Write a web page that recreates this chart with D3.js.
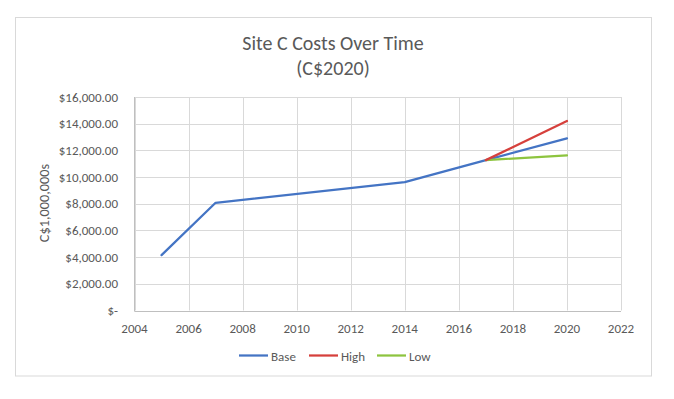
<!DOCTYPE html>
<html><head><meta charset="utf-8">
<script src="https://cdn.jsdelivr.net/npm/d3@7/dist/d3.min.js"></script>
<style>body{margin:0;background:#fff}svg{display:block}</style>
</head><body><svg id="c" width="674" height="399"></svg>
<script>
const years = [2005, 2007, 2014, 2017, 2020];
const baseValues = [4150, 8070, 9620, 11270, 12900];
const highYears = [2017, 2020];
const highValues = [11270, 14200];
const lowYears = [2017, 2020];
const lowValues = [11270, 11620];
const xTicks = [2004, 2006, 2008, 2010, 2012, 2014, 2016, 2018, 2020, 2022];
const yTicks = [0, 2000, 4000, 6000, 8000, 10000, 12000, 14000, 16000];
const seriesNames = ["Base", "High", "Low"];
const seriesColors = ["#4474C4", "#D6403C", "#8DC43F"];

const svg = d3.select("#c");
const font = "Carlito, Calibri, Lato, 'Open Sans', sans-serif";
const txt = "#595959";

svg.append("rect").attr("x",15.5).attr("y",17.5).attr("width",636).attr("height",358.5)
  .attr("fill","#fff").attr("stroke","#d9d9d9").attr("stroke-width",1);

const L=134.5, R=621, T=97, B=310.5;
const x = d3.scaleLinear().domain([2004,2022]).range([L,R]);
const y = d3.scaleLinear().domain([0,16000]).range([B,T]);

// grid
const g = svg.append("g");
g.selectAll(".gy").data(yTicks).join("line")
  .attr("x1",L).attr("x2",R).attr("y1",d=>Math.round(y(d))+0.5).attr("y2",d=>Math.round(y(d))+0.5)
  .attr("stroke","#d9d9d9").attr("stroke-width",1);
g.selectAll(".gx").data(xTicks).join("line")
  .attr("y1",T).attr("y2",B).attr("x1",d=>Math.round(x(d))+0.5).attr("x2",d=>Math.round(x(d))+0.5)
  .attr("stroke","#d9d9d9").attr("stroke-width",1);
// axis lines
svg.append("line").attr("x1",L).attr("x2",L).attr("y1",T).attr("y2",B+0.5).attr("stroke","#bfbfbf");
svg.append("line").attr("x1",L).attr("x2",R).attr("y1",Math.round(B)+0.5).attr("y2",Math.round(B)+0.5).attr("stroke","#bfbfbf");

// y tick labels
const fmt = d => d===0 ? "$-" : "$" + d3.format(",.2f")(d);
svg.selectAll(".yl").data(yTicks).join("text")
  .attr("x",118).attr("y",d=>y(d)).attr("dy","0.35em").attr("text-anchor","end")
  .attr("font-family",font).attr("font-size",13).attr("fill",txt).text(fmt);
// x tick labels
svg.selectAll(".xl").data(xTicks).join("text")
  .attr("x",d=>x(d)).attr("y",328).attr("dy","0.35em").attr("text-anchor","middle")
  .attr("font-family",font).attr("font-size",13).attr("fill",txt).text(d=>d);

// axis title
svg.append("text").attr("transform","translate(44,203) rotate(-90)").attr("text-anchor","middle")
  .attr("dy","0.35em").attr("font-family",font).attr("font-size",14.3).attr("fill",txt).text("C$1,000,000s");

// title
svg.append("text").attr("x",333).attr("y",43).attr("dy","0.35em").attr("text-anchor","middle")
  .attr("font-family",font).attr("font-size",20).attr("fill",txt).text("Site C Costs Over Time");
svg.append("text").attr("x",333).attr("y",68).attr("dy","0.35em").attr("text-anchor","middle")
  .attr("font-family",font).attr("font-size",20).attr("fill",txt).text("(C$2020)");

const line = d3.line().x(d=>x(d[0])).y(d=>y(d[1]));
const series = [
  d3.zip(years, baseValues),
  d3.zip(highYears, highValues),
  d3.zip(lowYears, lowValues)
];
[0,2,1].forEach(i=>{
  svg.append("path").datum(series[i]).attr("d",line).attr("fill","none")
    .attr("stroke",seriesColors[i]).attr("stroke-width",2.25).attr("stroke-linecap","round").attr("stroke-linejoin","round");
});

// legend
const legX = [239, 309, 377];
seriesNames.forEach((n,i)=>{
  svg.append("line").attr("x1",legX[i]).attr("x2",legX[i]+29).attr("y1",355.5).attr("y2",355.5)
    .attr("stroke",seriesColors[i]).attr("stroke-width",2.25);
  svg.append("text").attr("x",legX[i]+32).attr("y",356).attr("dy","0.35em")
    .attr("font-family",font).attr("font-size",13).attr("fill",txt).text(n);
});
</script></body></html>
